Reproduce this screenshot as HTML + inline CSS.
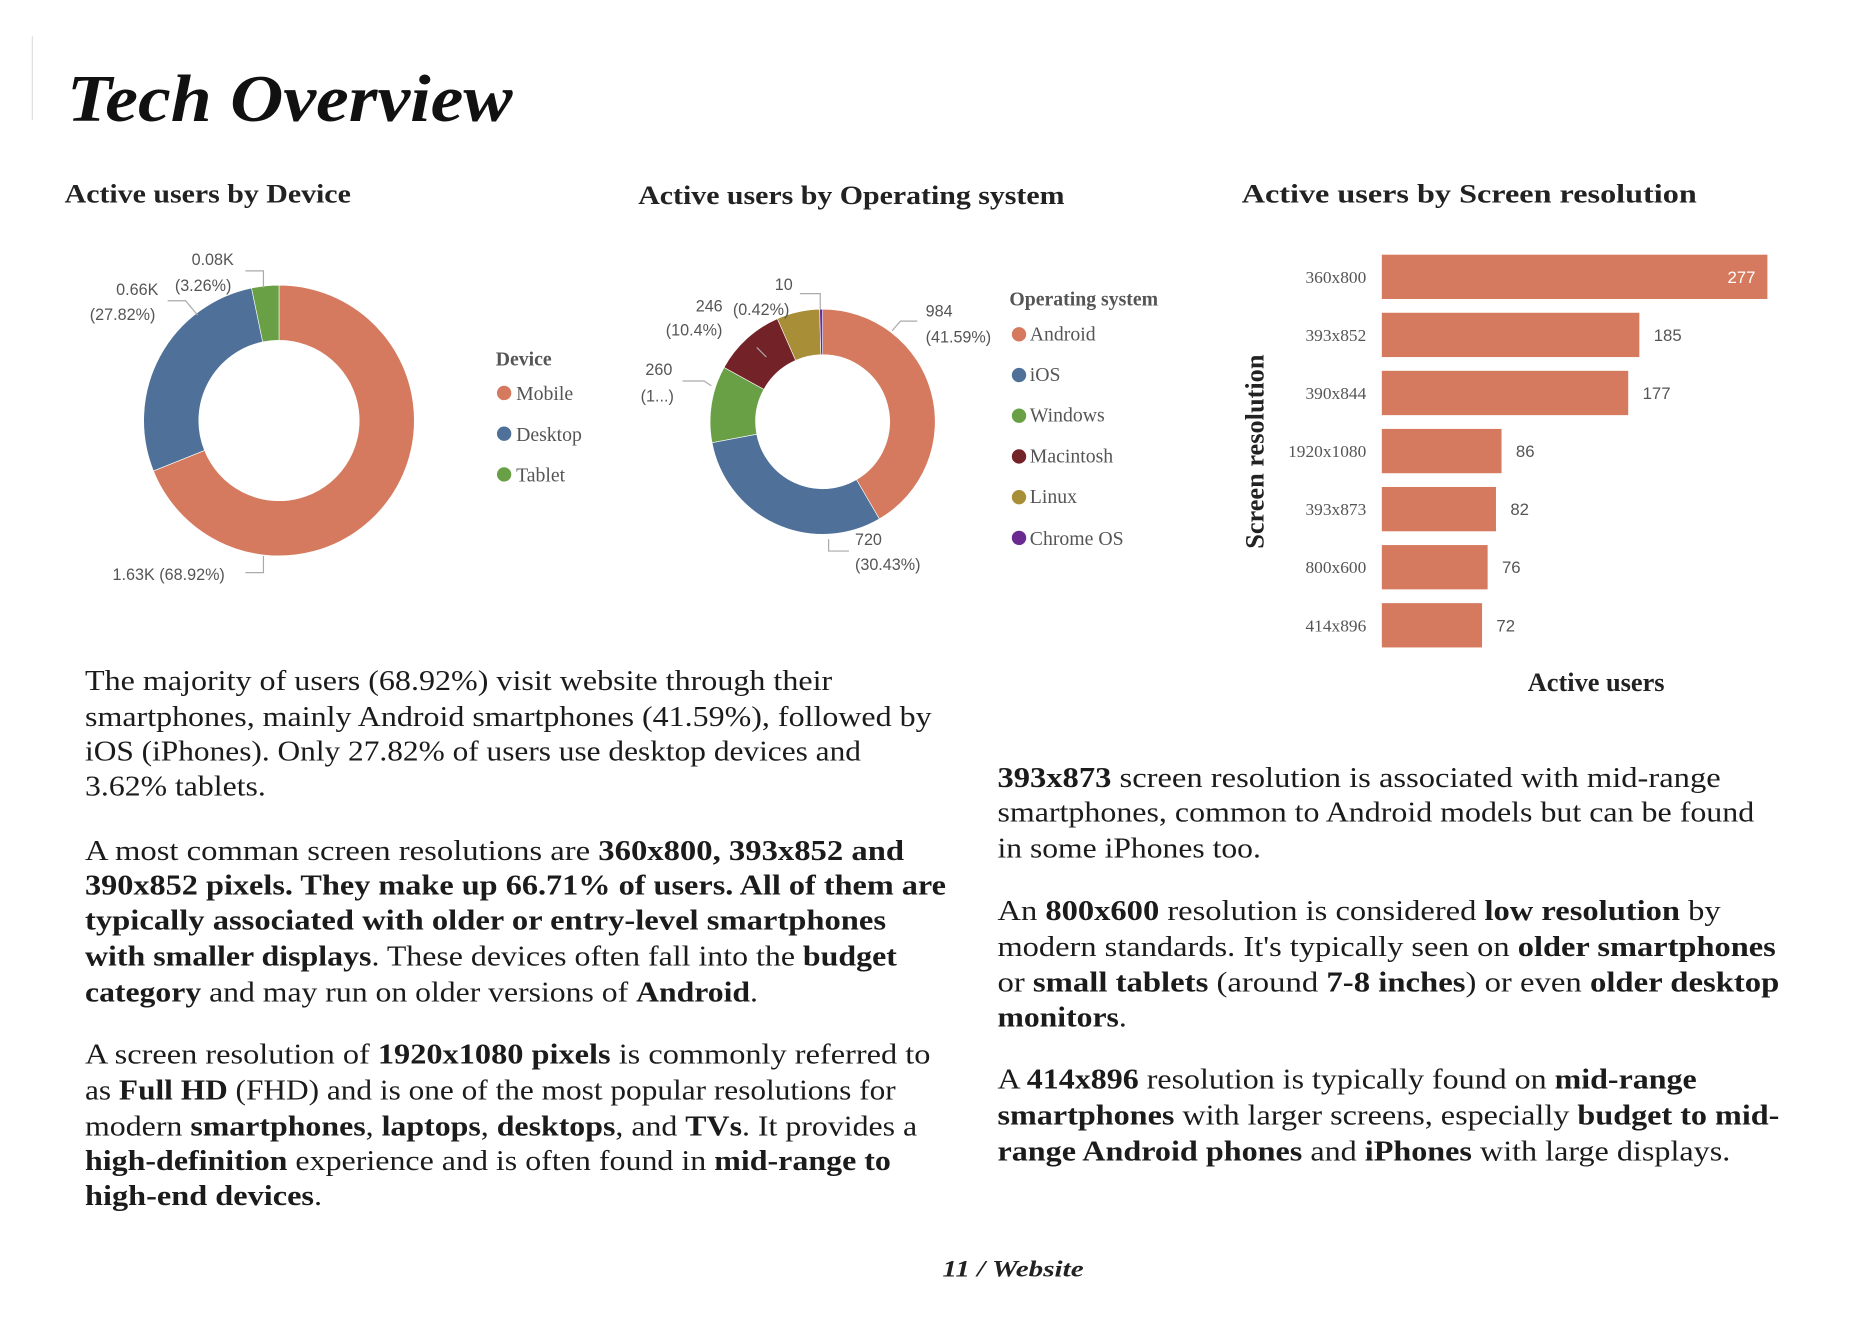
<!DOCTYPE html>
<html><head><meta charset="utf-8">
<style>
html,body{margin:0;padding:0;background:#fff;}
svg{display:block;}
.t{font-family:"Liberation Serif",serif;fill:#1b1b1b;font-size:23.5px;}
.b{font-weight:bold;}
.lab{font-family:"Liberation Sans",sans-serif;font-size:13.5px;fill:#555;}
.leg{font-family:"Liberation Serif",serif;font-size:16.5px;fill:#555;}
.h2{font-family:"Liberation Serif",serif;font-weight:bold;font-size:22px;fill:#222;}
</style></head>
<body>
<svg id="page" width="1862" height="1332" viewBox="0 0 1555 1112" xmlns="http://www.w3.org/2000/svg">
<line x1="27" y1="30" x2="27" y2="100" stroke="#ddd" stroke-width="1"/>
<text x="56" y="101" font-family="Liberation Serif, serif" font-weight="bold" font-style="italic" font-size="56" fill="#111" textLength="372" lengthAdjust="spacingAndGlyphs">Tech Overview</text>
<text class="h2" x="54" y="169" textLength="239" lengthAdjust="spacingAndGlyphs">Active users by Device</text>
<text class="h2" x="533" y="170" textLength="356" lengthAdjust="spacingAndGlyphs">Active users by Operating system</text>
<text class="h2" x="1037" y="169" textLength="380" lengthAdjust="spacingAndGlyphs">Active users by Screen resolution</text>

<g id="donut1"></g>
<g id="donut2"></g>
<g id="bars"></g>

<g class="lab">
<text class="lab" x="160" y="221">0.08K</text>
<text class="lab" x="146" y="243">(3.26%)</text>
<polyline points="205,226 220,226 220,240" fill="none" stroke="#aaa"/>
<text class="lab" x="97" y="246">0.66K</text>
<text class="lab" x="75" y="267">(27.82%)</text>
<polyline points="140,251 155,251 165,263" fill="none" stroke="#aaa"/>
<text class="lab" x="94" y="484">1.63K (68.92%)</text>
<polyline points="205,478 220,478 220,464" fill="none" stroke="#aaa"/>
</g>
<g>
<text class="leg b" x="414" y="305" font-size="15.5">Device</text>
<circle cx="421" cy="328" r="6" fill="#D57A5E"/><text class="leg" x="431" y="334">Mobile</text>
<circle cx="421" cy="362" r="6" fill="#4E7099"/><text class="leg" x="431" y="368">Desktop</text>
<circle cx="421" cy="396" r="6" fill="#69A045"/><text class="leg" x="431" y="402">Tablet</text>
</g>

<g>
<text class="lab" x="647" y="242">10</text>
<polyline points="668,245 685,245 685,258" fill="none" stroke="#aaa"/>
<text class="lab" x="581" y="260">246</text>
<text class="lab" x="612" y="263">(0.42%)</text>
<text class="lab" x="556" y="280">(10.4%)</text>
<polyline points="632,290 640,298" fill="none" stroke="#aaa"/>
<text class="lab" x="539" y="313">260</text>
<text class="lab" x="535" y="335">(1...)</text>
<polyline points="570,318 588,318 594,322" fill="none" stroke="#aaa"/>
<text class="lab" x="773" y="264">984</text>
<text class="lab" x="773" y="286">(41.59%)</text>
<polyline points="766,268 752,268 745,276" fill="none" stroke="#aaa"/>
<text class="lab" x="714" y="455">720</text>
<text class="lab" x="714" y="476">(30.43%)</text>
<polyline points="709,460 692,460 692,450" fill="none" stroke="#aaa"/>
</g>
<g>
<text class="leg b" x="843" y="255" font-size="15.5">Operating system</text>
<circle cx="851" cy="279" r="6" fill="#D57A5E"/><text class="leg" x="860" y="284">Android</text>
<circle cx="851" cy="313" r="6" fill="#4E7099"/><text class="leg" x="860" y="318">iOS</text>
<circle cx="851" cy="347" r="6" fill="#69A045"/><text class="leg" x="860" y="352">Windows</text>
<circle cx="851" cy="381" r="6" fill="#732228"/><text class="leg" x="860" y="386">Macintosh</text>
<circle cx="851" cy="415" r="6" fill="#A98E38"/><text class="leg" x="860" y="420">Linux</text>
<circle cx="851" cy="449" r="6" fill="#6A2A8F"/><text class="leg" x="860" y="455">Chrome OS</text>
</g>

<text class="h2" font-size="18.5" transform="translate(1055,377) rotate(-90)" text-anchor="middle">Screen resolution</text>
<text class="h2" font-size="19" x="1333" y="577" text-anchor="middle">Active users</text>

<g>
<text class="t" x="71" y="576" textLength="624" lengthAdjust="spacingAndGlyphs">The majority of users (68.92%) visit website through their</text>
<text class="t" x="71" y="606" textLength="707" lengthAdjust="spacingAndGlyphs">smartphones, mainly Android smartphones (41.59%), followed by</text>
<text class="t" x="71" y="635" textLength="648" lengthAdjust="spacingAndGlyphs">iOS (iPhones). Only 27.82% of users use desktop devices and</text>
<text class="t" x="71" y="664" textLength="151" lengthAdjust="spacingAndGlyphs">3.62% tablets.</text>
<text class="t" x="71" y="718" textLength="684" lengthAdjust="spacingAndGlyphs">A most comman screen resolutions are <tspan class="b">360x800, 393x852 and</tspan></text>
<text class="t b" x="71" y="747" textLength="719" lengthAdjust="spacingAndGlyphs">390x852 pixels. They make up 66.71% of users. All of them are</text>
<text class="t b" x="71" y="776" textLength="669" lengthAdjust="spacingAndGlyphs">typically associated with older or entry-level smartphones</text>
<text class="t" x="71" y="806" textLength="678" lengthAdjust="spacingAndGlyphs"><tspan class="b">with smaller displays</tspan>. These devices often fall into the <tspan class="b">budget</tspan></text>
<text class="t" x="71" y="836" textLength="562" lengthAdjust="spacingAndGlyphs"><tspan class="b">category</tspan> and may run on older versions of <tspan class="b">Android</tspan>.</text>
<text class="t" x="71" y="888" textLength="706" lengthAdjust="spacingAndGlyphs">A screen resolution of <tspan class="b">1920x1080 pixels</tspan> is commonly referred to</text>
<text class="t" x="71" y="918" textLength="677" lengthAdjust="spacingAndGlyphs">as <tspan class="b">Full HD</tspan> (FHD) and is one of the most popular resolutions for</text>
<text class="t" x="71" y="948" textLength="695" lengthAdjust="spacingAndGlyphs">modern <tspan class="b">smartphones</tspan>, <tspan class="b">laptops</tspan>, <tspan class="b">desktops</tspan>, and <tspan class="b">TVs</tspan>. It provides a</text>
<text class="t" x="71" y="977" textLength="673" lengthAdjust="spacingAndGlyphs"><tspan class="b">high-definition</tspan> experience and is often found in <tspan class="b">mid-range to</tspan></text>
<text class="t" x="71" y="1006" textLength="198" lengthAdjust="spacingAndGlyphs"><tspan class="b">high-end devices</tspan>.</text>
</g>
<g>
<text class="t" x="833" y="657" textLength="604" lengthAdjust="spacingAndGlyphs"><tspan class="b">393x873</tspan> screen resolution is associated with mid-range</text>
<text class="t" x="833" y="686" textLength="632" lengthAdjust="spacingAndGlyphs">smartphones, common to Android models but can be found</text>
<text class="t" x="833" y="716" textLength="220" lengthAdjust="spacingAndGlyphs">in some iPhones too.</text>
<text class="t" x="833" y="768" textLength="604" lengthAdjust="spacingAndGlyphs">An <tspan class="b">800x600</tspan> resolution is considered <tspan class="b">low resolution</tspan> by</text>
<text class="t" x="833" y="798" textLength="650" lengthAdjust="spacingAndGlyphs">modern standards. It's typically seen on <tspan class="b">older smartphones</tspan></text>
<text class="t" x="833" y="828" textLength="653" lengthAdjust="spacingAndGlyphs">or <tspan class="b">small tablets</tspan> (around <tspan class="b">7-8 inches</tspan>) or even <tspan class="b">older desktop</tspan></text>
<text class="t b" x="833" y="857" textLength="108" lengthAdjust="spacingAndGlyphs">monitors<tspan font-weight="normal">.</tspan></text>
<text class="t" x="833" y="909" textLength="584" lengthAdjust="spacingAndGlyphs">A <tspan class="b">414x896</tspan> resolution is typically found on <tspan class="b">mid-range</tspan></text>
<text class="t" x="833" y="939" textLength="653" lengthAdjust="spacingAndGlyphs"><tspan class="b">smartphones</tspan> with larger screens, especially <tspan class="b">budget to mid-</tspan></text>
<text class="t" x="833" y="969" textLength="612" lengthAdjust="spacingAndGlyphs"><tspan class="b">range Android phones</tspan> and <tspan class="b">iPhones</tspan> with large displays.</text>
</g>
<text x="846" y="1066" text-anchor="middle" font-family="Liberation Serif, serif" font-weight="bold" font-style="italic" font-size="19" fill="#222" textLength="118" lengthAdjust="spacingAndGlyphs">11 / Website</text>
</svg>
<script>
const deviceCategories = ["Mobile","Desktop","Tablet"];
const deviceValues = [1630, 658, 77];
const osCategories = ["Android","iOS","Windows","Macintosh","Linux","Chrome OS"];
const osValues = [984, 720, 260, 246, 146, 10];
const resCategories = ["360x800","393x852","390x844","1920x1080","393x873","800x600","414x896"];
const resValues = [277, 185, 177, 86, 82, 76, 72];

const NS = "http://www.w3.org/2000/svg";
const devColors = ["#D57A5E","#4E7099","#69A045"];
const osColors = ["#D57A5E","#4E7099","#69A045","#732228","#A98E38","#6A2A8F"];

function pt(cx, cy, r, a){ return [cx + r*Math.sin(a), cy - r*Math.cos(a)]; }
function donut(gid, cats, vals, colors, cx, cy, R, r){
  const g = document.getElementById(gid);
  const total = vals.reduce((s,v)=>s+v,0);
  let a0 = 0;
  vals.forEach((v,i)=>{
    const a1 = a0 + v/total*2*Math.PI;
    const large = (a1-a0) > Math.PI ? 1 : 0;
    const p1 = pt(cx,cy,R,a0), p2 = pt(cx,cy,R,a1), p3 = pt(cx,cy,r,a1), p4 = pt(cx,cy,r,a0);
    const path = document.createElementNS(NS,"path");
    path.setAttribute("d",`M${p1[0]},${p1[1]} A${R},${R} 0 ${large} 1 ${p2[0]},${p2[1]} L${p3[0]},${p3[1]} A${r},${r} 0 ${large} 0 ${p4[0]},${p4[1]} Z`);
    path.setAttribute("fill",colors[i]);
    path.setAttribute("stroke","#fff");
    path.setAttribute("stroke-width","0.5");
    
    
    g.appendChild(path);
    a0 = a1;
  });
}
donut("donut1", deviceCategories, deviceValues, devColors, 233, 351, 113, 67);
donut("donut2", osCategories, osValues, osColors, 687, 352, 94, 56);

(function(){
  const g = document.getElementById("bars");
  const x0 = 1154, maxW = 322, maxV = 277;
  const xs = v => x0 + v/maxV*maxW;
  const y0 = 231, step = 48.5, bh = 37;
  resCategories.forEach((c,i)=>{
    const cy = y0 + i*step;
    const v = resValues[i];
    const rect = document.createElementNS(NS,"rect");
    rect.setAttribute("x",x0); rect.setAttribute("y",cy-bh/2);
    rect.setAttribute("width",xs(v)-x0); rect.setAttribute("height",bh);
    rect.setAttribute("fill","#D57A5E");
    
    
    g.appendChild(rect);
    const lab = document.createElementNS(NS,"text");
    lab.setAttribute("x",1141); lab.setAttribute("y",cy+5);
    lab.setAttribute("text-anchor","end");
    lab.setAttribute("font-family","Liberation Serif, serif");
    lab.setAttribute("font-size","14.5"); lab.setAttribute("fill","#555");
    lab.textContent = c;
    
    
    g.appendChild(lab);
    const val = document.createElementNS(NS,"text");
    const inside = (xs(v)-x0) > 0.9*maxW;
    val.setAttribute("x", inside ? xs(v)-10 : xs(v)+12);
    val.setAttribute("y",cy+5);
    val.setAttribute("text-anchor", inside ? "end" : "start");
    val.setAttribute("font-family","Liberation Sans, sans-serif");
    val.setAttribute("font-size","14");
    val.setAttribute("fill", inside ? "#fff" : "#555");
    val.textContent = v;
    
    
    g.appendChild(val);
  });
})();
</script>
</body></html>
